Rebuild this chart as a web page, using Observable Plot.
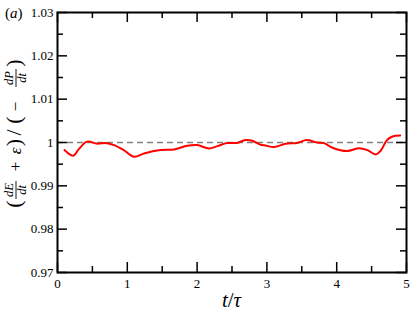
<!DOCTYPE html>
<html>
<head>
<meta charset="utf-8">
<script src="https://cdn.jsdelivr.net/npm/d3@7"></script>
<script src="https://cdn.jsdelivr.net/npm/@observablehq/plot@0.6"></script>
<style>
  body { margin: 0; background: #fff; }
  svg { display: block; }
</style>
</head>
<body>
<div id="chart"></div>
<script>
// ---- data ----
const tValues = [0.10,0.225,0.305,0.425,0.57,0.69,0.81,0.95,1.10,1.24,1.475,1.67,1.86,2.0,2.17,2.29,2.43,2.57,2.69,2.79,2.91,2.98,3.10,3.27,3.43,3.57,3.72,3.82,3.94,4.15,4.32,4.44,4.56,4.63,4.72,4.80,4.91];
const ratioValues = [0.99825,0.99694,0.99848,1.0002,0.9997,0.9999,0.9994,0.99825,0.9967,0.99747,0.99825,0.99839,0.99924,0.9994,0.99862,0.99917,0.99986,0.9999,1.00055,1.0004,0.99947,0.9993,0.99894,0.9997,0.9999,1.00055,1.0,0.99986,0.99878,0.99802,0.9987,0.99825,0.99724,0.99809,1.00055,1.00138,1.0016];
const referenceLevel = [1];
const xMajorTicks = [0,1,2,3,4,5];
const xMinorTicks = [0.5,1.5,2.5,3.5,4.5];
const yMajorTicks = [0.97,0.98,0.99,1,1.01,1.02,1.03];
const yMinorTicks = [0.975,0.985,0.995,1.005,1.015,1.025];
const yTickLabels = ["0.97","0.98","0.99","1","1.01","1.02","1.03"];
const xTickLabels = ["0","1","2","3","4","5"];

const data = tValues.map((t, i) => ({t, v: ratioValues[i]}));

// ---- layout ----
const W = 413, H = 316;
const mL = 57, mR = 7, mT = 12, mB = 44;
const IW = W - mL - mR, IH = H - mT - mB;
const FONT = "'Liberation Serif', 'Times New Roman', serif";

const chart = Plot.plot({
  width: W, height: H,
  marginLeft: mL, marginRight: mR, marginTop: mT, marginBottom: mB,
  style: {fontSize: "13px", background: "#fff", color: "#000"},
  x: {domain: [0, 5]},
  y: {domain: [0.97, 1.03]},
  marks: [
    Plot.ruleY(referenceLevel, {y: d => d, stroke: "#808080", strokeWidth: 1.5, strokeDasharray: "6,4"}),
    Plot.line(data, {x: "t", y: "v", stroke: "#ff0000", strokeWidth: 2, curve: "catmull-rom"}),
    // inward ticks on all four sides
    Plot.tickX(xMajorTicks, {x: d => d, insetTop: IH - 10, stroke: "black", strokeWidth: 1.5}),
    Plot.tickX(xMajorTicks, {x: d => d, insetBottom: IH - 10, stroke: "black", strokeWidth: 1.5}),
    Plot.tickX(xMinorTicks, {x: d => d, insetTop: IH - 6, stroke: "black", strokeWidth: 1.5}),
    Plot.tickX(xMinorTicks, {x: d => d, insetBottom: IH - 6, stroke: "black", strokeWidth: 1.5}),
    Plot.tickY(yMajorTicks, {y: d => d, insetRight: IW - 10, stroke: "black", strokeWidth: 1.5}),
    Plot.tickY(yMajorTicks, {y: d => d, insetLeft: IW - 10, stroke: "black", strokeWidth: 1.5}),
    Plot.tickY(yMinorTicks, {y: d => d, insetRight: IW - 6, stroke: "black", strokeWidth: 1.5}),
    Plot.tickY(yMinorTicks, {y: d => d, insetLeft: IW - 6, stroke: "black", strokeWidth: 1.5}),
    Plot.frame({stroke: "black", strokeWidth: 2}),
    Plot.axisX(xMajorTicks, {tickSize: 0, tickPadding: 6, label: null,
      tickFormat: d => xTickLabels[xMajorTicks.indexOf(d)]}),
    Plot.axisY(yMajorTicks, {tickSize: 0, tickPadding: 4, label: null,
      tickFormat: d => yTickLabels[yMajorTicks.indexOf(d)]})
  ]
});
document.getElementById("chart").appendChild(chart);

// ---- annotations (real text) ----
const svg = d3.select(chart);
const ann = svg.append("g").attr("fill", "black");

// panel label (a)
const pa = ann.append("text").attr("x", 5).attr("y", 18).attr("font-size", 15)
  .attr("text-anchor", "start");
pa.append("tspan").text("(");
pa.append("tspan").attr("font-style", "italic").text("a");
pa.append("tspan").text(")");

// x-axis label t/τ
const xl = ann.append("text").attr("x", mL + IW / 2).attr("y", 307)
  .attr("text-anchor", "middle").attr("font-size", 21);
xl.append("tspan").attr("font-style", "italic").text("t");
xl.append("tspan").text("/");
xl.append("tspan").attr("font-style", "italic").text("τ");

// y-axis label (dE/dt + ε)/(−dP/dt), rotated
const yl = ann.append("g").attr("transform", "rotate(-90)");
const base = 20.5;
function piece(txt, yc, size, italic, bx) {
  yl.append("text").attr("x", -yc).attr("y", bx === undefined ? base : bx)
    .attr("text-anchor", "middle").attr("font-size", size)
    .attr("font-style", italic ? "italic" : "normal").text(txt);
}
function frac(num, den, yc, halfw) {
  piece(num, yc, 12.5, true, 13);
  piece(den, yc, 12.5, true, 26);
  yl.append("line").attr("x1", -yc - halfw).attr("x2", -yc + halfw)
    .attr("y1", 16).attr("y2", 16).attr("stroke", "black").attr("stroke-width", 0.9);
}
piece("(", 204, 22, false);
frac("dE", "dt", 190, 9);
piece("+", 166.5, 17, false);
piece("ε", 151, 17, true);
piece(")", 142.5, 22, false);
piece("/", 132.5, 22, false);
piece("(", 120, 22, false);
piece("−", 106.5, 17, false);
frac("dP", "dt", 78, 9);
piece(")", 63, 22, false);

// force the serif face on every text
svg.attr("font-family", FONT).style("font-family", FONT);
svg.selectAll("text, tspan").style("font-family", FONT);
</script>
</body>
</html>
